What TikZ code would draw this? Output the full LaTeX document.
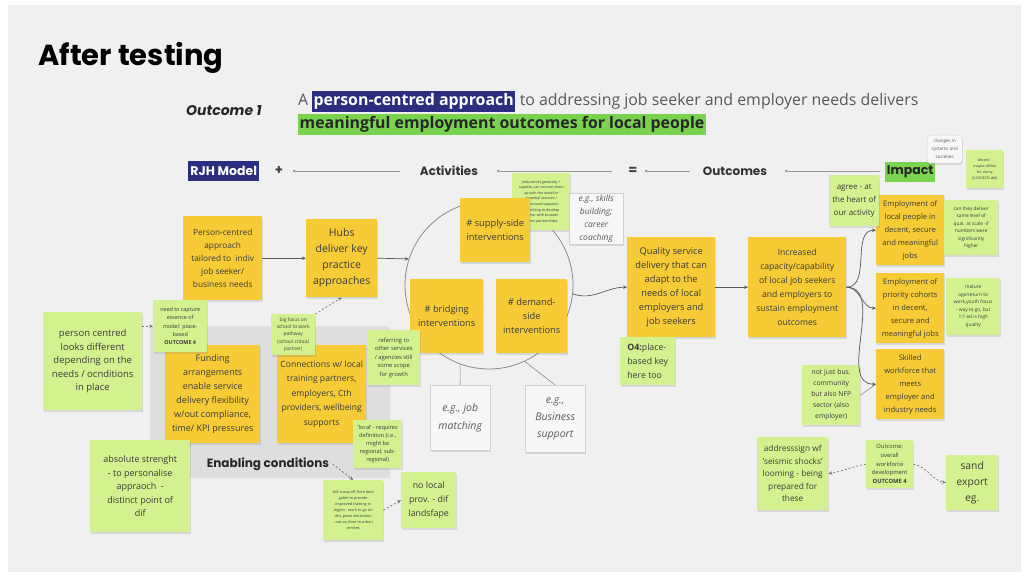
\documentclass[tikz,border=0pt]{standalone}
\usepackage{fontspec}
\setmainfont{Open Sans}
\newfontfamily\pop{Poppins}
\usetikzlibrary{shadows,arrows.meta}
\definecolor{slide}{HTML}{F0F0F0}
\definecolor{yel}{HTML}{F6CB35}
\definecolor{grn}{HTML}{D4F18F}
\definecolor{navy}{HTML}{2B2E7E}
\definecolor{hlgreen}{HTML}{7AD34F}
\definecolor{ink}{HTML}{3A3A3A}
\definecolor{enab}{HTML}{DEDEDE}
\newcommand\fsz[2]{\fontsize{#1}{#2}\selectfont}
\begin{document}
\begin{tikzpicture}[x=1pt,y=-1pt,
  note/.style={anchor=north west, align=center, inner sep=1pt, text=ink,
    drop shadow={opacity=0.22, shadow xshift=0.6pt, shadow yshift=-1.8pt}},
  ynote/.style={note, fill=yel},
  gnote/.style={note, fill=grn},
  wnote/.style={note, fill=black!3, draw=black!18, text=black!65},
  sz/.style 2 args={minimum width=#1pt, minimum height=#2pt},
  arr/.style={draw=black!65, line width=0.7pt, -{Stealth[length=4pt,width=3.5pt]}},
  darr/.style={draw=black!55, line width=0.7pt, dash pattern=on 2pt off 2pt, -{Stealth[length=4pt,width=3.5pt]}},
  hdr/.style={font=\pop\bfseries\fsz{12}{14}, text=black!80},
  rowline/.style={draw=black!40, line width=0.6pt, {Circle[length=2.5pt]}-},
]
\useasboundingbox (0,0) rectangle (1025,577);
\fill[white] (0,0) rectangle (1025,577);
\fill[slide] (8,5) rectangle (1021,572);

% title and headline
\node[anchor=base west, inner sep=0, font=\pop\bfseries\fsz{29}{32}, text=black] (title) at (38,66) {After testing};
\node[anchor=base west, inner sep=0, font=\pop\bfseries\itshape\fsz{14}{16}, text=black!85] (out1) at (186,116) {Outcome 1};
\node[anchor=base west, inner sep=0, font=\fsz{15.9}{18}, text=black!65] (h1) at (298,106) {A};
\node[anchor=base west, inner xsep=1.5pt, inner ysep=2.5pt, fill=navy, text=white, font=\bfseries\fsz{15.9}{18}] (h2) at ([xshift=3.5pt]h1.base east) {person-centred approach};
\node[anchor=base west, inner sep=0, font=\fsz{15.9}{18}, text=black!65] (h3) at (h2.base east) {\ to addressing job seeker and employer needs delivers};
\node[anchor=base west, inner xsep=1.5pt, inner ysep=2.5pt, fill=hlgreen, text=black!85, font=\bfseries\fsz{15.9}{18}] (h4) at (298,129) {meaningful employment outcomes for local people};

% header row
\node[anchor=north west, fill=navy, text=white, font=\pop\bfseries\fsz{12.5}{14}, sz={71}{20}, inner sep=0] (rjh) at (188,161) {RJH Model};
\node[font=\pop\bfseries\fsz{13}{14}, text=black!75] (plus) at (279,171) {+};
\node[hdr] (act) at (449,171) {Activities};
\node[font=\pop\bfseries\fsz{13}{14}, text=black!75] (eq) at (633,171) {=};
\node[hdr] (outc) at (735,171) {Outcomes};
\node[anchor=north west, fill=hlgreen, font=\pop\bfseries\fsz{12.5}{14}, text=black!85, sz={50}{20}, inner sep=0] (impact) at (885,162) {Impact};
\coordinate (l1a) at (293,171); \coordinate (l1b) at (400,171);
\coordinate (l2a) at (497,171); \coordinate (l2b) at (612,171);
\coordinate (l3a) at (645,171); \coordinate (l3b) at (690,171);
\coordinate (l4a) at (785,171); \coordinate (l4b) at (880,171);
\draw[rowline] (l1a) -- (l1b);
\draw[rowline] (l2a) -- (l2b);
\draw[rowline] (l3a) -- (l3b);
\draw[rowline] (l4a) -- (l4b);

% circle of activities
\node[circle, draw=black!45, line width=0.8pt, minimum size=168pt, inner sep=0] (circ) at (489,285) {};

% enabling conditions panel
\node[anchor=north west, fill=enab, rounded corners=3pt, sz={240}{152}, inner sep=0] (enabbox) at (150,326) {};
\node[font=\pop\bfseries\fsz{12}{14}, text=black!85] (enab) at (268,464) {Enabling conditions};

% note behind the supply-side sticky
\node[gnote, sz={58}{57}, font=\fsz{3.6}{5.6}] (tmid) at (512,173) {(education) generally +\\capable, can connect them\\up with the need for\\essential services /\\wraparound supports -\\something to develop\\further with broader\\comm partnerships};

% yellow stickies
\node[ynote, sz={79}{84}, font=\fsz{8.3}{13}] (pc) at (183,216) {Person-centred\\approach\\tailored to \ indiv\\job seeker/\\business needs};
\node[ynote, sz={71}{78}, font=\fsz{10.5}{16}] (hubs) at (306,219) {Hubs\\deliver key\\practice\\approaches};
\node[ynote, sz={70}{64}, font=\fsz{9.3}{14}] (supply) at (460,198) {\# supply-side\\interventions};
\node[ynote, sz={73}{74}, font=\fsz{9.3}{14}] (bridge) at (410,279) {\# bridging\\interventions};
\node[ynote, sz={71}{74}, font=\fsz{9.3}{14}] (demand) at (496,279) {\# demand-\\side\\interventions};
\node[ynote, sz={88}{100}, font=\fsz{9.3}{14}] (quality) at (627,237) {Quality service\\delivery that can\\adapt to the\\needs of local\\employers and\\job seekers};
\node[ynote, sz={98}{100}, font=\fsz{8.6}{14}] (incr) at (748,237) {Increased\\capacity/capability\\of local job seekers\\and employers to\\sustain employment\\outcomes};
\node[ynote, sz={68}{70}, font=\fsz{7.6}{13}] (imp1) at (876,195) {Employment of\\local people in\\decent, secure\\and meaningful\\jobs};
\node[ynote, sz={68}{70}, font=\fsz{7.6}{13}] (imp2) at (876,273) {Employment of\\priority cohorts\\in decent,\\secure and\\meaningful jobs};
\node[ynote, sz={68}{70}, font=\fsz{7.6}{13}] (imp3) at (876,349) {Skilled\\workforce that\\meets\\employer and\\industry needs};
\node[ynote, sz={95}{98}, font=\fsz{9}{14}] (fund) at (165,345) {Funding\\arrangements\\enable service\\delivery flexibility\\w/out compliance,\\time/ KPI pressures};
\node[ynote, sz={89}{98}, font=\fsz{8.6}{14.5}] (conn) at (277,345) {Connections w/ local\\training partners,\\employers, Cth\\providers, wellbeing\\supports};

% white example notes
\node[wnote, sz={54}{51}, font=\itshape\fsz{8.5}{13}] (skills) at (569,193) {e.g., skills\\building;\\career\\coaching};
\node[wnote, sz={60}{65}, font=\itshape\fsz{10.5}{18}] (jobm) at (430,385) {e.g., job\\matching};
\node[wnote, sz={60}{67}, font=\itshape\fsz{10.5}{17}] (bus) at (525,385) {e.g.,\\Business\\support};
\node[wnote, rounded corners=3pt, sz={35}{28}, font=\fsz{4.5}{8}] (chg) at (927,135) {changes in\\systems and\\societies};

% green notes
\node[gnote, sz={99}{98}, font=\fsz{9.5}{13.5}] (pcg) at (43,312) {person centred\\looks different\\depending on the\\needs / ocnditions\\in place};
\node[gnote, sz={54}{52}, font=\fsz{5.4}{8.3}] (needcap) at (153,300) {need to capture\\essence of\\model: place-\\based\\\textbf{OUTCOME 4}};
\node[gnote, sz={44}{41}, font=\fsz{4.8}{7.3}] (bigf) at (271,314) {big focus on\\school to work\\pathway\\(school critical\\partner)};
\node[gnote, sz={53}{55}, font=\fsz{5.8}{8.5}] (refer) at (367,330) {referring to\\other services\\/ agencies still\\some scope\\for growth};
\node[gnote, sz={100}{92}, font=\fsz{9}{13.5}] (absol) at (90,440) {absolute strenght\\- to personalise\\appraoch \ -\\distinct point of\\dif};
\node[gnote, sz={49}{48}, font=\fsz{5.6}{8}] (local) at (353,420) {'local' - requires\\definition (i.e.,\\might be\\regional; sub-\\regional)};
\node[gnote, sz={60}{60}, font=\fsz{3.8}{6}] (still) at (323,480) {still a way off from bein\\gable to provide\\improved training in\\region - work to go on\\this, place distinction\\- not as close to urban\\centres};
\node[gnote, sz={55}{56}, font=\fsz{8.8}{14}] (noloc) at (401,472) {no local\\prov. - dif\\landsfape};
\node[gnote, sz={55}{48}, font=\fsz{8.8}{14}, align=left] (o4) at (620,337) {\textbf{O4:}place-\\based key\\here too};
\node[gnote, sz={50}{51}, font=\fsz{8}{13}] (agree) at (829,175) {agree - at\\the heart of\\our activity};
\node[gnote, sz={54}{55}, font=\fsz{4.8}{7.5}] (qual) at (944,200) {can they deliver\\same level of\\qual. at scale -if\\numbers were\\significantly\\higher};
\node[gnote, sz={54}{57}, font=\fsz{4.8}{7.5}] (mature) at (946,278) {mature\\age/return to\\work,youth focus\\- way to go, but\\1:1 ed is high\\quality};
\node[gnote, sz={37}{38}, font=\fsz{3.6}{6}] (decent) at (966,150) {decent -\\maybe define\\for clarity\\(ILO/OECD def)};
\node[gnote, sz={58}{60}, font=\fsz{6.8}{11}] (njb) at (802,365) {not just bus.\\community\\but also NFP\\sector (also\\employer)};
\node[gnote, sz={71}{73}, font=\fsz{8.3}{12.5}] (addr) at (757,437) {addresssign wf\\'seismic shocks'\\looming - being\\prepared for\\these};
\node[gnote, sz={47}{48}, font=\fsz{5.8}{8.7}] (oc4) at (866,440) {Outcome:\\overall\\workforce\\development\\\textbf{OUTCOME 4}};
\node[gnote, sz={52}{55}, font=\fsz{10.3}{16}] (sand) at (946,455) {sand\\export\\eg.};

% connectors
\draw[arr] (pc.east) -- (hubs.west);
\draw[arr] (hubs.east) -- (circ.162);
\draw[arr] (circ.-6) to[out=-20, in=180] (quality.west);
\draw[arr] (quality.east) -- (incr.west);
\draw[arr] (incr.east) to[out=0, in=180] (imp1.west);
\draw[arr] (incr.east) to[out=0, in=180] (imp2.west);
\draw[arr] (incr.east) to[out=0, in=180] (imp3.west);
\draw[draw=black!45, line width=0.6pt] (circ.250) -- (jobm.north);
\draw[draw=black!45, line width=0.6pt] (circ.295) -- (bus.north);
\draw[draw=black!45, line width=0.6pt] (njb.east) -- (imp3.west);
\draw[darr] (pcg.east |- needcap.west) -- (needcap.west);
\draw[darr] (bigf.north east) -- (hubs.south);
\draw[darr] (enab.east) -- (still.north);
\draw[darr] (still.east) -- (noloc.west);
\draw[darr] (oc4.west) to[out=190, in=10] (addr.east);
\draw[darr] (oc4.east) to[out=-10, in=170] (sand.west);
\end{tikzpicture}
\end{document}
